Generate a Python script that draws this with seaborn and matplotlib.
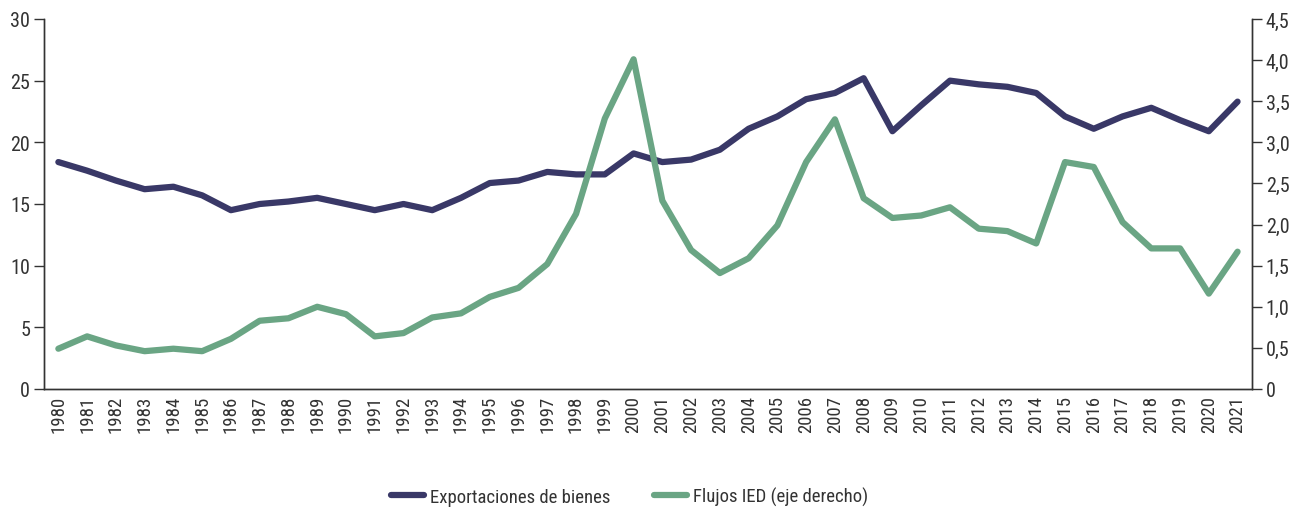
import matplotlib
matplotlib.use("Agg")
import matplotlib.pyplot as plt
from matplotlib.ticker import FixedLocator, FuncFormatter
import seaborn as sns
import pandas as pd

# datos
years = list(range(1980, 2022))
exportaciones = [18.4, 17.7, 16.9, 16.2, 16.4, 15.7, 14.5, 15.0, 15.2, 15.5,
                 15.0, 14.5, 15.0, 14.5, 15.5, 16.7, 16.9, 17.6, 17.4, 17.4,
                 19.1, 18.4, 18.6, 19.4, 21.1, 22.1, 23.5, 24.0, 25.2, 20.9,
                 23.0, 25.0, 24.7, 24.5, 24.0, 22.1, 21.1, 22.1, 22.8, 21.8,
                 20.9, 23.3]
flujos_ied = [0.49, 0.64, 0.53, 0.46, 0.49, 0.46, 0.61, 0.83, 0.86, 1.00,
              0.91, 0.64, 0.68, 0.87, 0.92, 1.12, 1.23, 1.52, 2.13, 3.29,
              4.01, 2.29, 1.69, 1.41, 1.59, 1.99, 2.76, 3.28, 2.32, 2.08,
              2.11, 2.21, 1.95, 1.92, 1.77, 2.76, 2.70, 2.03, 1.71, 1.71,
              1.16, 1.67]

df = pd.DataFrame({"year": years, "exp": exportaciones, "ied": flujos_ied})

sns.set_style("white")
plt.rcParams['font.family'] = ['Roboto Condensed', 'Liberation Sans Narrow', 'Roboto', 'DejaVu Sans']

azul = "#393867"
verde = "#6aa584"
gris = "#333333"

fig = plt.figure(figsize=(13.01, 5.10), dpi=100)
ax = fig.add_axes([0.0338, 0.2353, 0.9285, 0.7255])
ax2 = ax.twinx()

sns.lineplot(data=df, x="year", y="exp", ax=ax, color=azul, linewidth=4.5,
             solid_capstyle="round", label="Exportaciones de bienes", legend=False)
sns.lineplot(data=df, x="year", y="ied", ax=ax2, color=verde, linewidth=4.5,
             solid_capstyle="round", label="Flujos IED (eje derecho)", legend=False)

ax.set_xlim(years[0] - 0.5, years[-1] + 0.5)
ax.set_ylim(0, 30)
ax2.set_ylim(0, 4.5)
ax.set_yticks([0, 5, 10, 15, 20, 25, 30])
ax2.set_yticks([0, 0.5, 1, 1.5, 2, 2.5, 3, 3.5, 4, 4.5])
ax2.yaxis.set_major_formatter(FuncFormatter(
    lambda v, p: "0" if v == 0 else f"{v:.1f}".replace(".", ",")))

ax.set_xticks(years)
ax.set_xticklabels([str(y) for y in years], rotation=90)
ax.xaxis.set_minor_locator(FixedLocator([y - 0.5 for y in years] + [years[-1] + 0.5]))
ax.tick_params(axis="x", which="major", length=0, labelsize=13.5, pad=4)
ax.tick_params(axis="x", which="minor", length=8, width=1, color=gris, direction="out")
ax.tick_params(axis="y", length=7, width=1, color=gris, labelsize=14.5,
               direction="out", left=True, pad=3)
ax2.tick_params(axis="y", length=7, width=1, color=gris, labelsize=14.5,
                direction="out", right=True, pad=3)

for a in (ax, ax2):
    a.set_xlabel("")
    a.set_ylabel("")
    a.spines["top"].set_visible(False)
    for s in ("left", "right", "bottom"):
        a.spines[s].set_color(gris)
        a.spines[s].set_linewidth(1)
    a.tick_params(labelcolor=gris)

h1, l1 = ax.get_legend_handles_labels()
h2, l2 = ax2.get_legend_handles_labels()
fig.legend(h1 + h2, l1 + l2, loc="center", bbox_to_anchor=(0.484, 0.025),
           ncol=2, frameon=False, fontsize=13.5, handlelength=1.75,
           columnspacing=2.3, handletextpad=0.35, labelcolor=gris)

fig.savefig("out.png", dpi=100)
